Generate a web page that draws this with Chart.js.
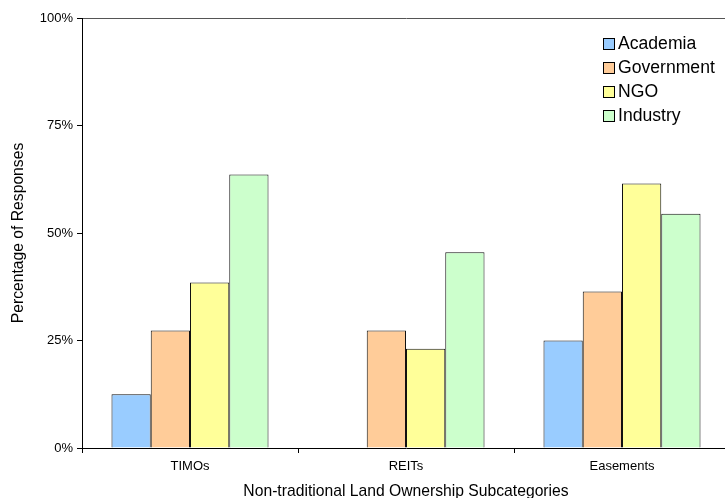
<!DOCTYPE html>
<html>
<head>
<meta charset="utf-8">
<script src="https://cdn.jsdelivr.net/npm/chart.js@4"></script>
<style>
  html, body { margin: 0; padding: 0; background: #fff; overflow: hidden; }
  #wrap { position: relative; width: 730px; height: 498px; }
  #legend { position: absolute; left: 603px; top: 31px; font-family: 'Liberation Sans', Arial, sans-serif; font-size: 17.6px; color: #000; }
  #legend .item { height: 24px; line-height: 24px; white-space: nowrap; }
  #legend .box { display: inline-block; width: 10px; height: 10px; border: 1px solid #000; margin-right: 3px; vertical-align: -1px; }
</style>
</head>
<body>
<div id="wrap">
  <canvas id="chart" width="730" height="498"></canvas>
  <div id="legend"></div>
</div>
<script>
// data (percent of responses)
var categories = ['TIMOs', 'REITs', 'Easements'];
var groups = ['Academia', 'Government', 'NGO', 'Industry'];
var academia = [12.5, 0, 25];
var government = [27.3, 27.3, 36.4];
var ngo = [38.5, 23.1, 61.5];
var industry = [63.6, 45.5, 54.5];
var yTicks = [0, 25, 50, 75, 100];

var colors = ['#99CCFF', '#FFCC99', '#FFFF99', '#CCFFCC'];
var series = [academia, government, ngo, industry];
var font = "'Liberation Sans', Arial, sans-serif";

var datasets = groups.map(function (name, i) {
  return {
    label: name,
    data: series[i],
    backgroundColor: colors[i],
    borderColor: '#111',
    borderWidth: 1,
    borderSkipped: 'bottom',
    barPercentage: 1,
    categoryPercentage: 0.727
  };
});

new Chart(document.getElementById('chart'), {
  type: 'bar',
  data: { labels: categories, datasets: datasets },
  options: {
    responsive: false,
    animation: false,
    layout: { padding: { top: 18, right: 0, left: 0, bottom: 0 } },
    plugins: { legend: { display: false }, tooltip: { enabled: false } },
    scales: {
      x: {
        afterFit: function (s) { s.height = 50; },
        border: { display: true, color: '#000', width: 1 },
        grid: { drawOnChartArea: false, drawTicks: true, tickLength: 5, tickColor: '#000', offset: true },
        ticks: { color: '#000', font: { family: font, size: 13 }, padding: 6 },
        title: { display: true, text: 'Non-traditional Land Ownership Subcategories', color: '#000',
                 font: { family: font, size: 15.7, lineHeight: 0.8 }, padding: { top: 0, bottom: 0 } }
      },
      y: {
        min: 0, max: 100,
        afterFit: function (s) { s.width = 82; },
        afterBuildTicks: function (s) { s.ticks = yTicks.map(function (v) { return { value: v }; }); },
        border: { display: true, color: '#000', width: 1 },
        grid: {
          color: function (ctx) { return ctx.tick && ctx.tick.value === 100 ? '#555' : 'rgba(0,0,0,0)'; },
          tickColor: '#000', tickLength: 5
        },
        ticks: { color: '#000', font: { family: font, size: 13 }, padding: 4,
                 callback: function (v) { return v + '%'; } },
        title: { display: true, text: 'Percentage of Responses', color: '#000',
                 font: { family: font, size: 15.7 }, padding: { top: 9, bottom: 0 } }
      }
    }
  }
});

// legend inside the plot area, top right
var legendEl = document.getElementById('legend');
groups.forEach(function (name, i) {
  var row = document.createElement('div');
  row.className = 'item';
  var box = document.createElement('span');
  box.className = 'box';
  box.style.background = colors[i];
  row.appendChild(box);
  row.appendChild(document.createTextNode(name));
  legendEl.appendChild(row);
});
</script>
</body>
</html>
